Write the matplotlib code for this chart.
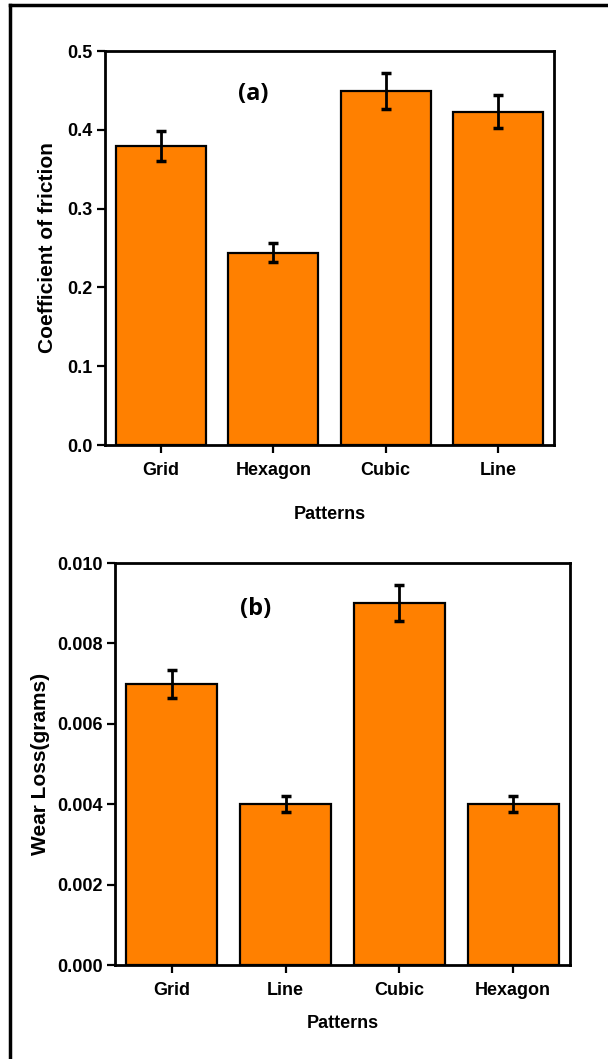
import numpy as np
import matplotlib.pyplot as plt
from matplotlib.lines import Line2D
from matplotlib.ticker import FormatStrFormatter

plt.rcParams['font.family'] = ['Liberation Sans', 'DejaVu Sans']

# panel (a) data
patterns_a = ['Grid', 'Hexagon', 'Cubic', 'Line']
friction = [0.380, 0.244, 0.449, 0.423]
friction_err = [0.019, 0.012, 0.023, 0.021]

# panel (b) data
patterns_b = ['Grid', 'Line', 'Cubic', 'Hexagon']
wear = [0.0070, 0.0040, 0.0090, 0.0040]
wear_err = [0.00035, 0.0002, 0.00045, 0.0002]

W, H = 608, 1059
fig = plt.figure(figsize=(W / 100, H / 100), dpi=100)

BAR = '#ff8000'


def make_panel(rect, labels, values, errs, ylim, yticks, fmt, ylabel, ylsize,
               ylpad, xlpad, tag, tag_xy):
    x0, y0, x1, y1 = rect
    ax = fig.add_axes([x0 / W, 1 - y1 / H, (x1 - x0) / W, (y1 - y0) / H])
    xs = np.arange(len(labels))
    ax.bar(xs, values, width=0.8, color=BAR, edgecolor='black', linewidth=1.6,
           yerr=errs, capsize=3.3, error_kw=dict(elinewidth=2, capthick=2.5, ecolor='black'),
           zorder=2)
    ax.set_xlim(-0.5, len(labels) - 0.5)
    ax.set_ylim(*ylim)
    ax.set_yticks(yticks)
    ax.yaxis.set_major_formatter(FormatStrFormatter(fmt))
    ax.set_xticks(xs)
    ax.set_xticklabels(labels)
    for s in ax.spines.values():
        s.set_linewidth(2)
    ax.tick_params(direction='out', length=6, width=1.6, labelsize=13, pad=3)
    ax.tick_params(axis='x', pad=6)
    for t in ax.get_xticklabels() + ax.get_yticklabels():
        t.set_fontweight('bold')
    ax.set_xlabel('Patterns', fontsize=13, fontweight='bold', labelpad=xlpad)
    ax.set_ylabel(ylabel, fontsize=ylsize, fontweight='bold', labelpad=ylpad)
    ax.text(tag_xy[0], tag_xy[1], tag, transform=ax.transAxes, fontsize=17,
            fontweight='bold', family=['Open Sans', 'DejaVu Sans'],
            ha='center', va='center')
    return ax


make_panel((105, 51, 554, 445), patterns_a, friction, friction_err,
           (0, 0.5), np.arange(0, 0.51, 0.1), '%.1f',
           'Coefficient of friction', 15, 7, 20, '(a)', (0.33, 0.89))
make_panel((115, 563, 570, 965), patterns_b, wear, wear_err,
           (0, 0.010), np.arange(0, 0.0101, 0.002), '%.3f',
           'Wear Loss(grams)', 15, 5, 12, '(b)', (0.31, 0.885))

# outer frame (left and top edges visible)
fig.add_artist(Line2D([10 / W, 10 / W], [0, 1 - 5 / H], color='black', linewidth=2.5,
                      transform=fig.transFigure))
fig.add_artist(Line2D([10 / W, 1], [1 - 5 / H, 1 - 5 / H], color='black', linewidth=2.5,
                      transform=fig.transFigure))

fig.savefig('out.png', dpi=100)
